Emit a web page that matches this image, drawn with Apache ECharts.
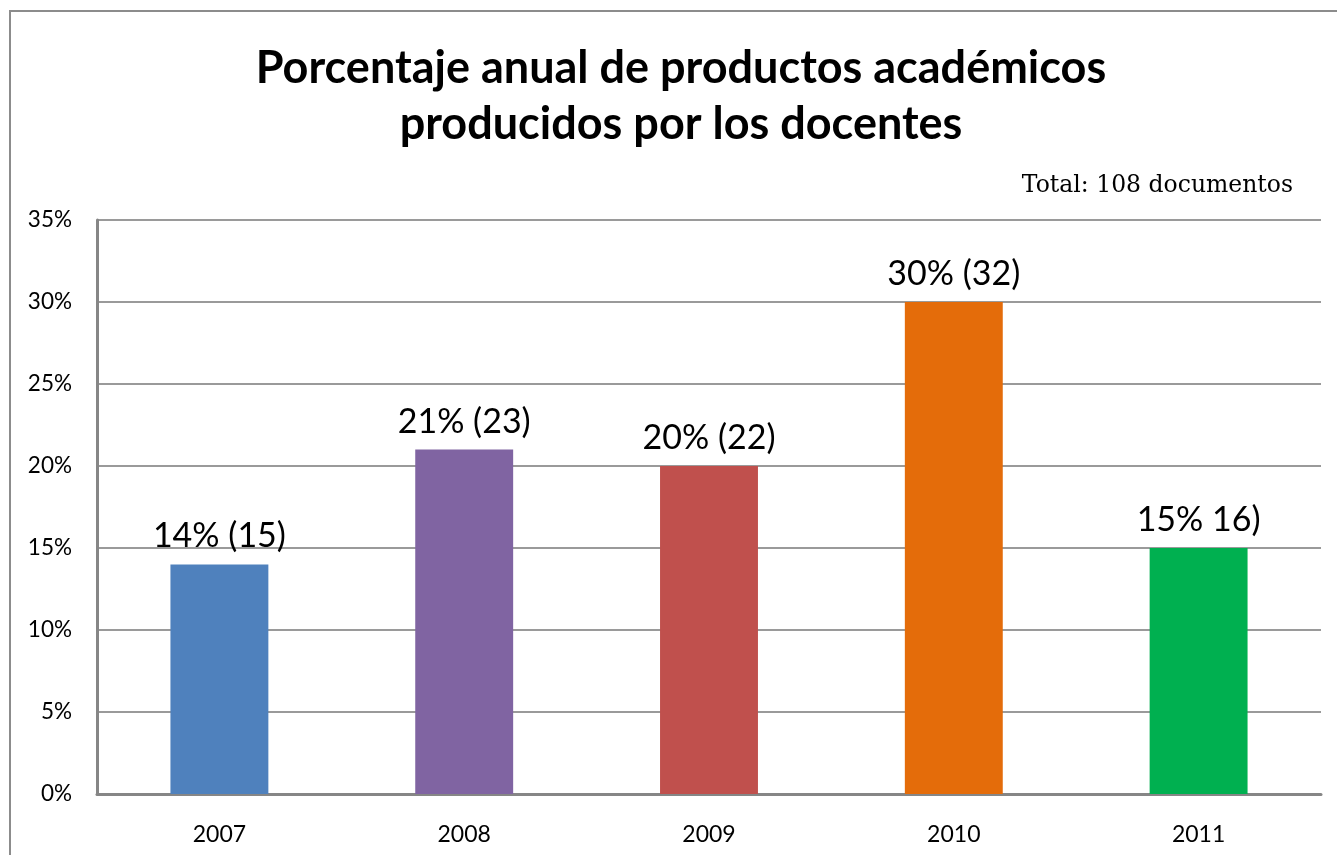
<!DOCTYPE html>
<html>
<head>
<meta charset="utf-8">
<script src="https://cdn.jsdelivr.net/npm/echarts@6/dist/echarts.min.js"></script>
<style>
html,body{margin:0;padding:0;background:#fff;}
#chart{width:1337px;height:855px;}
</style>
</head>
<body>
<div id="chart"></div>
<script>
const categories = ['2007', '2008', '2009', '2010', '2011'];
const percentValues = [14, 21, 20, 30, 15];
const dataLabels = ['14% (15)', '21% (23)', '20% (22)', '30% (32)', '15% 16)'];
const barColors = ['#4F81BD', '#8064A2', '#C0504D', '#E46C0A', '#00B050'];
const titleText = 'Porcentaje anual de productos académicos\nproducidos por los docentes';
const noteText = 'Total: 108 documentos';

const chart = echarts.init(document.getElementById('chart'));
chart.setOption({
  backgroundColor: '#fff',
  animation: false,
  graphic: [
    {type: 'rect', shape: {x: 10, y: 11, width: 1400, height: 900}, style: {fill: 'none', stroke: '#8c8c8c', lineWidth: 2}, z: 0},
    {type: 'text', x: 681, y: 40, style: {text: titleText, align: 'center', verticalAlign: 'top', font: 'bold 45px Lato', lineHeight: 56, fill: '#000'}},
    {type: 'text', right: 44, top: 174, style: {text: noteText, font: '23.5px "DejaVu Serif"', fill: '#000'}}
  ],
  grid: {left: 97, right: 16, top: 220, bottom: 61, containLabel: false},
  xAxis: {
    type: 'category',
    data: categories,
    axisLine: {lineStyle: {color: '#868686', width: 3}},
    axisTick: {show: false},
    axisLabel: {fontFamily: 'Lato', fontSize: 23, color: '#000', margin: 29}
  },
  yAxis: {
    type: 'value',
    min: 0, max: 35, interval: 5,
    axisLine: {show: true, lineStyle: {color: '#868686', width: 3}},
    axisTick: {show: false},
    splitLine: {lineStyle: {color: '#9a9a9a', width: 2}},
    axisLabel: {fontFamily: 'Lato', fontSize: 22.5, color: '#000', margin: 25, formatter: '{value}%'}
  },
  series: [{
    type: 'bar',
    barWidth: '40%',
    data: percentValues.map((v, i) => ({value: v, itemStyle: {color: barColors[i]}})),
    label: {
      show: true,
      position: 'top',
      distance: 11,
      fontFamily: 'Lato',
      fontSize: 34,
      color: '#000',
      formatter: p => dataLabels[p.dataIndex]
    }
  }]
});
</script>
</body>
</html>
